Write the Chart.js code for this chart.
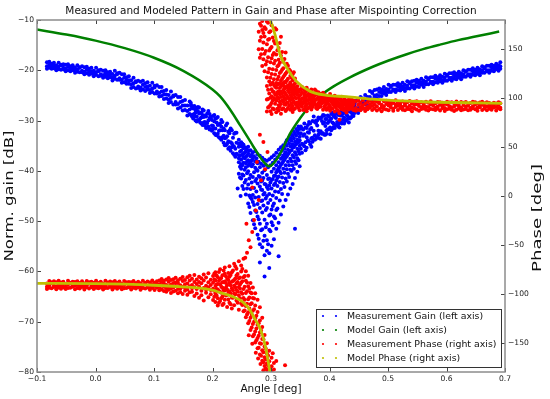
<!DOCTYPE html>
<html>
<head>
<meta charset="utf-8">
<title>Gain and Phase after Mispointing Correction</title>
<script src="https://cdn.jsdelivr.net/npm/chart.js@4.4.1/dist/chart.umd.min.js"></script>
<style>
    html, body { margin: 0; padding: 0; background: #fff; }
    canvas { display: block; }
</style>
</head>
<body>
<canvas id="pattern-chart" width="550" height="399"></canvas>
<script>
// Angle [deg] vs normalised gain [dB] (left axis) and phase [deg] (right axis).

var gainModel = [
    [-0.1, -11.9], [-0.05, -12.9], [0, -14.1], [0.05, -15.6], [0.1, -17.5], [0.15, -20.1],
    [0.2, -23.8], [0.213, -25.2], [0.23, -27.8], [0.247, -30.9], [0.26, -33.3],
    [0.27, -35.2], [0.28, -37.0], [0.288, -38.3], [0.297, -39.1], [0.305, -38.4], [0.312, -37.3],
    [0.32, -35.6], [0.3325, -32.6], [0.35, -29.5], [0.367, -27.0], [0.385, -25.0], [0.407, -23.2],
    [0.435, -21.4], [0.474, -19.3], [0.5, -18.1], [0.532, -16.8], [0.56, -15.8], [0.589, -14.9],
    [0.62, -14.0], [0.645, -13.4], [0.69, -12.3]
];

var phaseModelLeft = [
    [-0.1, -89.3], [0, -89.6], [0.05, -90.2], [0.1, -91.3], [0.15, -93.0], [0.179, -94.3],
    [0.2, -96.3], [0.213, -98.8], [0.235, -103.0], [0.252, -108.5], [0.264, -116.5],
    [0.2726, -126.0], [0.281, -135.0], [0.286, -143.5], [0.29, -153.0], [0.294, -165.0],
    [0.297, -176.0], [0.2985, -182.0]
];

var phaseModelRight = [
    [0.2975, 182.0], [0.3017, 175.0], [0.307, 164.7], [0.3154, 145.0], [0.327, 131.0],
    [0.344, 117.0], [0.367, 107.0], [0.395, 103.0], [0.429, 101.6], [0.474, 99.0],
    [0.56, 96.4], [0.695, 94.8]
];

// blue cloud, left arm
var gainMeasLeft = [
    [-0.083, -18.4, -19.2, -19.7], [-0.079, -18.9, -18.3, -19.5], [-0.075, -19.2, -18.7, -19.7],
    [-0.071, -18.5, -19.6, -19.1], [-0.067, -19.5, -19.0, -20.0], [-0.063, -18.5, -19.3, -19.8],
    [-0.059, -19.0, -19.9, -18.9], [-0.055, -19.5, -18.8, -19.8], [-0.051, -18.9, -19.7, -20.2],
    [-0.047, -19.3, -18.8, -20.0], [-0.043, -19.6, -19.2, -20.2], [-0.039, -19.0, -20.0, -19.5],
    [-0.035, -20.0, -19.5, -20.5], [-0.031, -19.0, -19.8, -20.3], [-0.027, -19.5, -20.4, -19.4],
    [-0.023, -20.1, -19.2, -20.4], [-0.019, -19.4, -20.3, -20.8], [-0.015, -19.9, -19.3, -20.6],
    [-0.011, -20.3, -19.7, -20.9], [-0.007, -19.5, -20.7, -20.2], [-0.003, -20.7, -20.1, -21.2],
    [0.001, -19.5, -20.4, -20.9], [0.005, -20.2, -21.2, -20.0], [0.009, -20.8, -19.9, -21.1],
    [0.013, -20.1, -21.0, -21.5], [0.017, -20.6, -20.0, -21.3], [0.021, -21.0, -20.4, -21.6],
    [0.025, -20.3, -21.4, -20.9], [0.029, -21.45, -20.75, -22.05], [0.033, -20.1, -21.1, -21.7],
    [0.037, -20.8, -21.9, -20.6], [0.041, -21.6, -20.5, -21.9], [0.045, -20.8, -21.9, -22.5],
    [0.049, -21.5, -20.8, -22.4], [0.053, -22.0, -21.4, -22.7], [0.057, -21.2, -22.7, -22.0],
    [0.061, -22.8, -22.0, -23.5], [0.065, -21.5, -22.6, -23.3], [0.069, -22.4, -23.6, -22.2],
    [0.073, -23.2, -22.1, -23.5], [0.077, -22.3, -23.4, -24.0], [0.081, -22.9, -22.1, -23.8],
    [0.085, -23.3, -22.6, -24.1], [0.089, -22.4, -23.8, -23.2], [0.093, -23.9, -23.1, -24.5],
    [0.097, -22.5, -23.6, -24.3], [0.101, -23.4, -24.6, -23.1], [0.105, -24.2, -23.0, -24.6],
    [0.109, -23.3, -24.5, -25.2], [0.113, -24.2, -23.3, -25.1], [0.117, -24.8, -24.1, -25.7],
    [0.121, -23.9, -25.6, -24.8], [0.125, -25.8, -24.9, -26.5], [0.129, -24.2, -25.5, -26.3],
    [0.133, -25.2, -26.8, -25.0], [0.137, -26.3, -24.9, -26.8], [0.141, -25.3, -26.7, -27.6],
    [0.145, -26.3, -25.3, -27.4], [0.149, -27.0, -26.1, -28.0], [0.153, -25.9, -27.9, -27.0],
    [0.157, -28.1, -27.0, -29.0], [0.161, -26.2, -27.8, -28.7], [0.165, -27.5, -29.2, -27.1],
    [0.169, -28.7, -27.1, -29.2], [0.173, -27.5, -29.2, -30.2], [0.177, -28.6, -27.4, -30.0],
    [0.181, -29.4, -28.4, -30.6], [0.185, -28.0, -30.4, -29.3], [0.189, -30.5, -29.2, -31.5],
    [0.193, -28.1, -30.0, -31.2], [0.197, -29.6, -31.7, -29.2], [0.201, -31.1, -29.1, -31.7],
    [0.205, -29.6, -31.6, -32.8], [0.209, -30.9, -29.3, -32.6], [0.213, -31.9, -30.6, -33.5],
    [0.217, -30.3, -33.3, -31.9], [0.221, -33.5, -31.9, -34.9], [0.225, -30.6, -33.1, -34.6],
    [0.229, -32.5, -35.3, -32.0], [0.233, -34.5, -31.9, -35.3], [0.237, -32.6, -35.2, -36.8],
    [0.241, -34.4, -32.4, -36.6],
    // in-between columns where the band is wide
    [0.163, -27.0, -28.9, -26.5], [0.167, -29.6, -27.6, -28.8], [0.171, -27.9, -30.0, -28.4],
    [0.175, -29.9, -28.1, -27.3], [0.179, -28.5, -30.4, -29.6], [0.183, -30.9, -28.9, -27.8],
    [0.187, -29.0, -31.0, -30.3], [0.191, -28.6, -31.4, -30.5], [0.195, -31.8, -29.5, -28.7],
    [0.199, -29.9, -32.0, -31.0], [0.203, -28.9, -32.5, -30.2], [0.207, -32.9, -30.4, -29.5],
    [0.211, -30.8, -33.3, -32.0], [0.215, -29.9, -33.8, -31.2], [0.219, -34.4, -31.6, -33.0],
    [0.223, -31.0, -34.9, -33.4], [0.227, -32.2, -35.6, -34.1], [0.231, -31.6, -36.0, -34.3],
    [0.235, -33.4, -36.5, -35.0], [0.239, -32.4, -37.2, -35.6]
];

// blue cloud, bottom of the dip
var gainMeasDip = [
    [0.243, -43.5], [0.248, -45.0],
    [0.245, -33.8, -35.2, -36.9, -34.6, -38.3, -40.6, -37.5],
    [0.249, -34.3, -36.0, -37.8, -35.1, -39.6, -41.5, -38.7],
    [0.253, -34.8, -36.6, -38.4, -35.5, -40.9, -43.6, -37.3],
    [0.257, -35.4, -37.2, -39.3, -36.1, -41.8, -44.7, -38.5],
    [0.261, -35.2, -37.9, -40.1, -36.6, -42.7, -46.5, -39.0],
    [0.265, -35.9, -38.2, -40.8, -37.1, -43.6, -48.4, -45.3],
    [0.269, -36.3, -38.7, -41.2, -37.6, -44.8, -49.8, -46.2],
    [0.273, -36.1, -39.4, -42.0, -38.1, -45.3, -51.4, -47.9],
    [0.277, -36.7, -40.0, -42.5, -38.5, -46.6, -52.7, -49.1],
    [0.281, -37.0, -39.3, -43.1, -41.2, -47.4, -54.6, -50.5, -58.2],
    [0.285, -37.4, -40.4, -43.8, -41.9, -48.3, -55.2, -51.6, -45.9],
    [0.289, -37.8, -39.9, -44.4, -42.6, -49.7, -56.8, -52.9, -61.0],
    [0.293, -38.0, -40.8, -45.0, -43.2, -50.5, -55.9, -47.4, -53.8],
    [0.297, -37.7, -41.5, -44.6, -42.9, -48.9, -56.4, -51.7, -59.3],
    [0.301, -37.3, -40.2, -43.5, -41.8, -47.7, -54.9, -50.2],
    [0.305, -36.9, -39.6, -42.8, -41.0, -46.5, -53.6, -49.1],
    [0.309, -36.4, -38.9, -41.9, -40.3, -45.4, -51.5, -47.8],
    [0.313, -35.8, -38.3, -41.1, -39.5, -44.2, -50.3, -57.0],
    [0.317, -35.3, -37.6, -40.5, -38.8, -43.6, -48.7],
    [0.321, -34.9, -37.0, -39.6, -38.1, -42.4, -47.1],
    [0.325, -34.4, -36.3, -38.9, -37.4, -41.5, -45.8],
    [0.329, -33.9, -35.8, -38.2, -36.7, -40.6, -44.7],
    [0.333, -33.5, -35.1, -37.6, -36.0, -39.8, -43.5],
    [0.337, -33.0, -34.7, -36.9, -35.4, -38.9, -42.6],
    [0.341, -32.6, -34.2, -36.3, -34.9, -38.1, -41.4, -51.5],
    [0.345, -32.1, -33.8, -35.6, -34.3, -37.5, -40.2],
    [0.349, -31.7, -33.2, -35.0, -33.9, -36.6, -39.1],
    // in-between columns
    [0.247, -35.0, -37.0, -39.2, -36.2, -41.3], [0.251, -34.6, -36.8, -38.9, -40.7, -43.0],
    [0.255, -35.3, -37.5, -39.8, -36.4, -42.3], [0.259, -35.8, -38.1, -40.5, -43.5, -37.0],
    [0.263, -36.0, -38.6, -41.5, -44.9, -47.2], [0.267, -36.8, -39.1, -42.3, -45.6, -37.9],
    [0.271, -37.1, -40.3, -43.4, -46.8, -50.6], [0.275, -37.5, -39.8, -44.1, -48.2, -41.6],
    [0.279, -38.2, -41.0, -45.2, -49.6, -53.5], [0.283, -38.6, -42.1, -46.0, -43.7, -51.8],
    [0.287, -39.0, -41.4, -46.9, -53.9, -44.7], [0.291, -38.8, -42.7, -47.8, -51.2, -45.5],
    [0.295, -39.3, -43.6, -46.4, -54.6, -41.6], [0.299, -38.9, -42.3, -45.8, -52.0, -48.7],
    [0.303, -38.4, -41.6, -44.9, -50.8, -47.0], [0.307, -37.8, -40.9, -44.1, -49.4, -42.5],
    [0.311, -37.3, -39.9, -43.0, -47.5, -41.4], [0.315, -36.7, -39.2, -42.2, -45.9, -40.1],
    [0.319, -36.0, -38.5, -41.3, -44.6, -37.4], [0.323, -35.6, -37.8, -40.4, -43.2, -36.7],
    [0.327, -35.0, -37.1, -39.7, -42.1, -33.9], [0.331, -34.5, -36.4, -38.9, -41.2, -33.4],
    [0.335, -34.0, -35.9, -38.1, -40.0, -32.8], [0.339, -33.5, -35.3, -37.3, -39.6, -32.2],
    [0.343, -33.0, -34.7, -36.8, -38.6, -31.7], [0.347, -32.5, -34.3, -36.1, -37.9, -31.2]
];

// blue cloud, right arm
var gainMeasRight = [
    [0.353, -31.6, -34.6, -36.4], [0.357, -32.7, -30.6, -35.1], [0.361, -33.3, -31.5, -35.4],
    [0.365, -30.3, -34.1, -32.4], [0.369, -33.5, -31.5, -35.2], [0.373, -29.2, -32.0, -33.7],
    [0.377, -30.5, -33.6, -30.0], [0.381, -32.0, -29.4, -32.8], [0.385, -29.5, -32.1, -33.6],
    [0.389, -30.6, -28.9, -32.5], [0.393, -31.1, -29.7, -32.8], [0.397, -29.0, -31.8, -30.5],
    [0.401, -31.4, -29.9, -32.7], [0.405, -28.4, -30.4, -31.6], [0.409, -29.3, -31.5, -28.9],
    [0.413, -30.3, -28.3, -30.9], [0.417, -28.3, -30.2, -31.4], [0.421, -29.0, -27.7, -30.6],
    [0.425, -29.4, -28.3, -30.6], [0.429, -27.5, -29.9, -28.8], [0.433, -29.4, -28.2, -30.4],
    [0.437, -26.7, -28.4, -29.4], [0.441, -27.2, -29.1, -26.9], [0.445, -27.7, -26.1, -28.2],
    [0.449, -25.9, -27.5, -28.5], [0.453, -26.4, -25.3, -27.6], [0.457, -26.5, -25.6, -27.6],
    [0.461, -24.9, -26.7, -25.9], [0.465, -26.2, -25.3, -27.1], [0.469, -24.1, -25.3, -26.0],
    [0.473, -24.5, -25.8, -24.3], [0.477, -25.0, -23.9, -25.3], [0.481, -23.8, -24.9, -25.6],
    [0.485, -24.3, -23.6, -25.1], [0.489, -24.4, -23.8, -25.1], [0.493, -23.3, -24.6, -24.0],
    [0.497, -24.3, -23.7, -24.9], [0.501, -22.9, -23.8, -24.3], [0.505, -23.3, -24.3, -23.1],
    [0.509, -23.8, -22.9, -24.0], [0.513, -22.9, -23.8, -24.3], [0.517, -23.2, -22.6, -23.9],
    [0.521, -23.4, -22.9, -24.0], [0.525, -22.5, -23.7, -23.2], [0.529, -23.5, -22.9, -24.1],
    [0.533, -22.2, -23.1, -23.6], [0.537, -22.6, -23.6, -22.4], [0.541, -23.0, -22.2, -23.3],
    [0.545, -22.1, -23.0, -23.6], [0.549, -22.5, -21.9, -23.2], [0.553, -22.7, -22.1, -23.3],
    [0.557, -21.7, -22.9, -22.4], [0.561, -22.7, -22.1, -23.3], [0.565, -21.4, -22.3, -22.8],
    [0.569, -21.8, -22.8, -21.6], [0.573, -22.3, -21.4, -22.5], [0.577, -21.4, -22.3, -22.8],
    [0.581, -21.7, -21.1, -22.4], [0.585, -21.9, -21.4, -22.5], [0.589, -21.0, -22.2, -21.6],
    [0.593, -22.0, -21.3, -22.5], [0.597, -20.7, -21.5, -22.1], [0.601, -21.1, -22.1, -20.9],
    [0.605, -21.5, -20.6, -21.8], [0.609, -20.6, -21.5, -22.1], [0.613, -21.0, -20.4, -21.7],
    [0.617, -21.2, -20.7, -21.8], [0.621, -20.3, -21.4, -20.9], [0.625, -21.3, -20.6, -21.8],
    [0.629, -20.0, -20.8, -21.3], [0.633, -20.3, -21.3, -20.2], [0.637, -20.8, -19.9, -21.0],
    [0.641, -19.9, -20.8, -21.3], [0.645, -20.2, -19.6, -20.9], [0.649, -20.4, -19.9, -21.0],
    [0.653, -19.5, -20.7, -20.1], [0.657, -20.5, -19.8, -21.0], [0.661, -19.2, -20.0, -20.5],
    [0.665, -19.6, -20.5, -19.4], [0.669, -20.0, -19.1, -20.2], [0.673, -19.1, -20.0, -20.5],
    [0.677, -19.4, -18.9, -20.1], [0.681, -19.6, -19.1, -20.2], [0.685, -18.7, -19.8, -19.3],
    [0.689, -19.6, -19.0, -20.1], [0.692, -18.4, -19.2, -19.7],
    // in-between columns where the band is wide
    [0.351, -32.5, -35.6, -31.2], [0.355, -34.8, -31.8, -33.0], [0.359, -31.4, -34.3, -35.9],
    [0.363, -33.9, -30.9, -32.3], [0.367, -30.6, -34.7, -31.8], [0.371, -33.4, -30.1, -34.2],
    [0.375, -32.9, -30.3, -33.8], [0.379, -30.0, -33.3, -31.0], [0.383, -32.4, -29.6, -33.5],
    [0.387, -30.1, -32.6, -29.3], [0.391, -32.8, -30.4, -29.0], [0.395, -29.7, -31.9, -32.6],
    [0.399, -31.7, -29.2, -30.2], [0.403, -29.6, -31.9, -28.7], [0.407, -31.3, -29.0, -30.6],
    [0.411, -28.6, -30.9, -29.5], [0.415, -30.7, -28.9, -31.2], [0.419, -28.2, -30.3, -29.0],
    [0.423, -30.5, -28.6, -29.8], [0.427, -27.9, -30.1, -28.4], [0.431, -29.7, -27.6, -29.1],
    [0.435, -27.3, -29.6, -28.0], [0.439, -29.0, -27.0, -28.5], [0.443, -26.6, -28.5, -27.2]
];

// red cloud, lower branch (near -90 deg, bending down to -180)
var phaseMeasLeft = [
    [-0.083, -92.8, -89.5, -95.2], [-0.079, -86.9, -91.3, -93.9], [-0.075, -89.0, -94.4, -88.1],
    [-0.071, -91.7, -87.2, -93.0], [-0.067, -88.3, -92.6, -95.3], [-0.063, -90.4, -86.8, -93.7],
    [-0.059, -91.8, -88.5, -94.9], [-0.055, -87.6, -93.5, -90.2], [-0.051, -93.1, -89.9, -95.0],
    [-0.047, -86.7, -90.6, -94.2], [-0.043, -89.6, -93.8, -88.7], [-0.039, -92.2, -87.8, -92.9],
    [-0.035, -88.0, -91.9, -95.4], [-0.031, -90.8, -87.1, -94.0], [-0.027, -91.5, -89.1, -94.6],
    [-0.023, -87.3, -93.0, -90.7], [-0.019, -92.6, -89.4, -95.5], [-0.015, -86.9, -91.2, -93.3],
    [-0.011, -89.3, -94.7, -88.2], [-0.007, -91.9, -87.6, -93.4], [-0.003, -88.6, -92.1, -95.1],
    [0.001, -90.2, -86.7, -93.9], [0.005, -92.0, -88.9, -94.3], [0.009, -87.8, -93.6, -90.5],
    [0.013, -92.9, -89.6, -95.6], [0.017, -86.8, -91.5, -94.1], [0.021, -89.8, -94.2, -88.5],
    [0.025, -91.6, -87.4, -93.1], [0.029, -88.1, -92.4, -95.5], [0.033, -90.6, -87.0, -93.5],
    [0.037, -91.7, -88.7, -94.8], [0.041, -87.4, -93.3, -90.9], [0.045, -93.0, -89.8, -95.3],
    [0.049, -86.9, -90.9, -94.4], [0.053, -89.4, -94.0, -88.3], [0.057, -92.4, -87.9, -93.2],
    [0.061, -88.2, -92.0, -95.7], [0.065, -90.9, -86.9, -93.8], [0.069, -91.3, -89.0, -94.7],
    [0.073, -87.7, -93.4, -90.4], [0.077, -92.7, -89.3, -95.8], [0.081, -86.6, -91.4, -94.0],
    [0.085, -89.7, -94.5, -88.6], [0.089, -91.8, -87.5, -93.6], [0.093, -88.4, -92.8, -95.9],
    [0.097, -90.3, -86.5, -94.1], [0.101, -92.1, -88.8, -96.2], [0.105, -87.2, -93.9, -90.8],
    [0.109, -86.4, -93.1, -96.5, -90.2], [0.113, -91.8, -88.0, -95.7, -84.9],
    [0.117, -89.5, -97.1, -86.6, -92.8], [0.121, -94.4, -85.3, -90.9, -98.0],
    [0.125, -87.7, -92.3, -96.0, -83.8], [0.129, -90.6, -99.1, -86.0, -94.8],
    [0.133, -85.2, -93.7, -89.1, -97.6], [0.137, -92.0, -83.5, -96.9, -88.4],
    [0.141, -88.9, -95.2, -99.4, -86.1], [0.145, -94.6, -84.7, -91.3, -98.2],
    [0.149, -87.0, -92.9, -100.3, -82.9], [0.153, -90.2, -96.8, -85.8, -93.9],
    [0.157, -95.7, -83.1, -89.6, -101.0], [0.161, -86.4, -92.4, -98.5, -81.6],
    [0.165, -91.1, -97.9, -84.6, -94.3], [0.169, -88.0, -102.2, -93.3, -80.7],
    [0.173, -95.0, -85.5, -99.6, -90.1], [0.177, -82.6, -92.6, -104.1, -87.9],
    [0.181, -96.8, -89.2, -101.5, -84.0], [0.185, -86.5, -94.1, -107.0, -80.2],
    [0.189, -91.7, -99.0, -83.4, -95.8], [0.193, -88.3, -103.6, -78.9, -93.4],
    [0.197, -96.2, -85.7, -100.5, -91.0], [0.201, -81.7, -94.8, -106.4, -88.6],
    [0.205, -77.9, -92.1, -99.8, -86.4, -108.5], [0.209, -95.6, -83.2, -104.7, -89.9, -112.0],
    [0.213, -74.8, -90.3, -98.1, -85.0, -107.3], [0.217, -93.8, -81.1, -102.9, -88.2, -111.4],
    [0.221, -79.5, -96.7, -87.4, -106.1, -73.2], [0.225, -91.2, -84.8, -100.9, -113.6, -95.5],
    [0.229, -71.9, -89.0, -97.3, -82.7, -109.2], [0.233, -94.3, -78.0, -103.8, -87.6, -115.0],
    [0.237, -69.4, -91.8, -85.9, -99.7, -111.7], [0.241, -81.3, -96.2, -74.5, -106.8, -89.3],
    [0.245, -66.8, -93.0, -84.1, -101.5, -116.4], [0.249, -77.2, -98.4, -88.8, -109.9, -71.0],
    [0.253, -95.1, -83.0, -104.2, -117.8, -64.3], [0.257, -86.7, -99.2, -112.5, -76.9, -124.0],
    [0.261, -92.4, -105.6, -81.5, -118.9, -130.2], [0.265, -98.8, -110.7, -88.9, -124.6, -137.1],
    [0.269, -104.3, -117.4, -93.6, -131.0, -143.5], [0.273, -112.0, -125.1, -99.5, -138.6, -149.9],
    [0.277, -118.7, -131.8, -106.0, -145.2, -155.6], [0.281, -127.3, -139.5, -150.7, -162.0, -113.8],
    [0.285, -133.9, -146.2, -157.8, -168.4, -124.5], [0.289, -142.1, -154.0, -164.9, -173.8],
    [0.293, -150.6, -161.2, -171.4, -177.9], [0.297, -158.3, -168.9, -176.0],
    [0.301, -165.4, -174.2, -179.0], [0.305, -170.8, -177.5], [0.324, -173.0],
    [0.262, -142.5], [0.268, -151.0], [0.274, -160.2], [0.278, -166.3], [0.282, -171.9],
    [0.287, -178.2], [0.303, -160.8], [0.309, -168.7],
    // in-between columns of the bend
    [0.203, -85.4, -96.9, -79.6, -103.0], [0.207, -90.5, -81.4, -101.8, -95.0],
    [0.211, -86.8, -97.2, -77.6, -109.3], [0.215, -92.7, -83.9, -104.5, -99.0],
    [0.219, -88.1, -76.3, -95.9, -110.2], [0.223, -82.2, -93.6, -101.7, -88.9],
    [0.227, -97.9, -86.0, -78.8, -105.8], [0.231, -91.4, -80.7, -99.8, -110.6],
    [0.235, -87.0, -96.3, -76.1, -104.0], [0.239, -93.2, -84.5, -100.4, -71.8],
    [0.243, -88.0, -97.7, -79.9, -109.1], [0.247, -94.7, -83.4, -104.7, -90.6],
    [0.251, -99.9, -87.1, -111.5, -74.7], [0.255, -92.9, -106.2, -81.9, -117.0],
    [0.259, -97.5, -110.3, -88.4, -121.3], [0.263, -103.7, -115.0, -94.9, -127.9],
    [0.267, -109.8, -121.5, -99.4, -134.6], [0.271, -115.9, -128.7, -104.8, -141.6],
    [0.275, -122.5, -135.6, -147.5], [0.279, -130.1, -142.8, -155.3],
    [0.283, -137.6, -151.2, -163.5], [0.287, -146.5, -159.8, -170.1],
    [0.291, -155.9, -167.3, -176.3], [0.295, -163.2, -173.0]
];

// sparse red points bridging the two branches inside the gain dip
var phaseMeasBridge = [
    [0.259, -58.0], [0.265, -52.5], [0.256, -63.1], [0.262, -45.2], [0.268, -36.7],
    [0.258, -28.4], [0.271, -24.5], [0.274, -14.9], [0.279, -4.0], [0.268, 8.6],
    [0.283, 16.1], [0.29, 27.3], [0.276, 34.8], [0.294, 45.0], [0.287, 55.2], [0.281, 62.7]
];

// red cloud, upper branch (from +180 deg settling near +92 deg)
var phaseMeasRight = [
    [0.281, 176.2, 158.9, 141.5], [0.285, 169.8, 150.4, 133.0, 179.1],
    [0.289, 163.1, 145.6, 127.7, 172.5], [0.293, 178.4, 155.2, 137.9, 121.3],
    [0.297, 167.4, 148.8, 130.2, 160.6], [0.301, 174.7, 141.0, 124.9, 152.3],
    [0.305, 158.5, 135.6, 119.4, 146.2], [0.309, 170.3, 144.7, 128.8, 115.6],
    [0.313, 151.4, 133.9, 122.0, 139.3], [0.317, 162.8, 127.1, 117.8, 143.5],
    [0.321, 137.4, 121.6, 130.7, 112.9], [0.325, 146.8, 125.3, 116.2],
    [0.329, 133.1, 119.8, 110.4], [0.333, 127.9, 114.7, 122.6],
    [0.337, 118.5, 124.4, 109.9], [0.341, 115.2, 120.1, 107.8],
    [0.279, 168.0, 150.2], [0.283, 162.5, 145.0, 174.0], [0.287, 157.1, 139.8, 166.8],
    [0.291, 170.9, 148.3, 134.6], [0.295, 159.7, 142.0, 126.5, 177.2],
    [0.299, 168.6, 150.9, 136.7, 121.0], [0.303, 162.2, 144.1, 129.6],
    [0.307, 155.9, 138.3, 124.2, 171.5], [0.311, 149.0, 132.7, 119.3],
    [0.315, 156.5, 136.4, 125.7, 114.8], [0.319, 147.2, 129.0, 119.9],
    [0.323, 140.1, 123.4, 116.6], [0.327, 135.2, 118.1, 126.9], [0.331, 129.4, 113.2],
    [0.335, 121.0, 111.8], [0.339, 126.6, 112.4],
    [0.293, 112.4, 98.7, 86.3], [0.297, 104.9, 91.6, 117.0], [0.301, 109.3, 95.1, 83.8, 101.9],
    [0.305, 113.6, 100.2, 88.7, 106.4], [0.309, 97.3, 110.8, 85.6, 103.5],
    [0.313, 115.1, 92.9, 107.2, 99.6, 87.4], [0.317, 101.3, 111.9, 94.0, 84.2, 106.7],
    [0.321, 108.5, 96.6, 115.4, 89.8, 102.1], [0.325, 93.2, 104.6, 111.3, 86.9, 99.0],
    [0.329, 113.0, 100.7, 95.4, 107.8, 90.1], [0.333, 97.8, 109.6, 88.3, 103.2, 116.1],
    [0.337, 105.5, 92.1, 112.6, 99.3, 86.0], [0.341, 101.0, 110.2, 94.7, 106.9, 89.4],
    [0.345, 108.1, 96.0, 103.9, 112.3, 91.8], [0.349, 94.3, 102.6, 87.6, 109.0, 98.5],
    [0.353, 106.2, 99.8, 91.3, 111.5, 95.6], [0.357, 97.1, 104.3, 89.0, 108.4, 101.7],
    [0.361, 102.9, 93.6, 110.6, 98.2, 86.8], [0.365, 95.2, 106.8, 100.4, 90.7, 104.0],
    [0.369, 108.9, 97.5, 92.4, 103.1, 88.5], [0.373, 99.6, 105.2, 93.9, 101.8, 96.3],
    [0.377, 92.0, 103.7, 98.8, 107.4, 89.9], [0.381, 101.1, 95.0, 106.1, 90.6, 99.3],
    [0.385, 104.5, 97.2, 91.4, 102.3], [0.389, 96.0, 100.9, 88.2, 105.6],
    [0.393, 93.3, 103.0, 98.4, 90.2], [0.397, 101.8, 95.7, 89.6, 97.9],
    [0.401, 98.0, 92.1, 104.2, 87.1], [0.405, 94.9, 100.3, 89.3, 97.0],
    [0.409, 102.6, 91.7, 96.4, 86.4], [0.413, 97.2, 93.6, 100.8, 88.0],
    [0.417, 90.9, 99.1, 94.4, 84.6, 78.0], [0.421, 96.8, 88.8, 101.5, 92.5],
    [0.425, 93.7, 99.0, 87.7, 95.8], [0.429, 90.1, 97.4, 92.9, 85.3],
    [0.433, 98.6, 94.2, 88.4, 96.1], [0.437, 92.3, 96.9, 89.5, 99.7],
    [0.441, 95.5, 87.9, 93.8, 97.6],
    [0.295, 99.2, 108.6, 90.4], [0.299, 113.8, 100.4, 93.0, 86.8],
    [0.303, 97.6, 106.9, 89.5, 115.7], [0.307, 103.8, 94.4, 111.7, 98.7],
    [0.311, 89.2, 106.0, 100.9, 113.9], [0.315, 96.3, 104.1, 110.4, 91.0],
    [0.319, 114.5, 98.0, 88.6, 104.8], [0.323, 100.0, 93.8, 109.9, 106.3],
    [0.327, 95.7, 112.0, 102.7, 88.4], [0.331, 106.0, 99.2, 92.6, 111.5],
    [0.335, 101.6, 94.6, 108.2, 90.2], [0.339, 97.0, 113.7, 103.5, 88.7],
    [0.343, 110.5, 99.9, 93.3, 104.7], [0.347, 94.9, 106.5, 100.5, 90.0],
    [0.351, 103.7, 97.3, 108.6, 92.4], [0.355, 99.4, 110.0, 94.4, 87.9],
    [0.359, 106.7, 100.6, 91.9, 96.0], [0.363, 97.7, 103.9, 89.8, 108.1],
    [0.367, 101.9, 94.1, 106.0, 99.0], [0.371, 95.6, 104.4, 91.0, 100.5],
    [0.375, 103.0, 97.6, 94.3, 108.8], [0.379, 99.7, 93.0, 104.0, 88.9],
    [0.383, 96.4, 100.6, 92.2], [0.387, 102.1, 94.8, 99.0], [0.391, 97.8, 91.5, 101.3],
    [0.395, 95.3, 100.0, 88.3], [0.399, 99.7, 93.7, 91.2], [0.403, 96.6, 101.6, 89.7],
    [0.407, 93.0, 98.8, 95.1], [0.411, 99.6, 90.3, 94.8], [0.415, 96.0, 92.2, 87.3],
    [0.419, 98.7, 93.9, 90.7], [0.423, 91.0, 97.5, 95.0], [0.427, 94.6, 89.8, 98.1],
    [0.431, 96.3, 92.0, 88.9], [0.435, 93.1, 97.9, 90.7], [0.439, 89.4, 95.0, 92.6],
    [0.445, 96.8, 90.0, 87.1], [0.449, 93.4, 97.5, 88.2], [0.453, 91.0, 95.2, 87.6],
    [0.457, 97.9, 92.7, 89.4], [0.461, 89.8, 94.6, 86.9], [0.465, 96.1, 91.4, 88.7],
    [0.469, 93.9, 98.0, 90.3], [0.473, 88.0, 95.7, 92.1], [0.477, 97.2, 89.6, 93.3],
    [0.481, 91.8, 96.3, 87.4], [0.485, 94.8, 88.9, 97.6], [0.489, 90.6, 93.2, 86.8],
    [0.493, 96.9, 91.9, 89.0], [0.497, 88.5, 94.1, 97.3], [0.501, 92.6, 87.7, 95.5],
    [0.505, 97.0, 90.4, 93.7], [0.509, 89.3, 95.0, 87.2], [0.513, 93.5, 97.8, 90.9],
    [0.517, 87.9, 92.2, 96.0], [0.521, 95.6, 89.9, 93.0], [0.525, 91.1, 96.7, 88.1],
    [0.529, 94.4, 87.6, 92.7], [0.533, 89.0, 95.9, 90.5], [0.537, 97.1, 92.4, 88.6],
    [0.541, 90.2, 94.6, 86.7], [0.545, 96.3, 89.4, 93.1], [0.549, 88.4, 93.8, 96.9],
    [0.553, 92.0, 87.3, 95.2], [0.557, 95.8, 90.7, 88.9], [0.561, 89.6, 94.3, 92.8],
    [0.565, 96.5, 88.2, 91.4], [0.569, 90.9, 95.4, 87.5], [0.573, 93.6, 89.1, 97.0],
    [0.577, 88.7, 92.9, 95.1], [0.581, 94.9, 90.3, 87.9], [0.585, 91.5, 96.2, 89.2],
    [0.589, 87.4, 93.3, 95.8], [0.593, 95.3, 89.8, 92.1], [0.597, 90.0, 94.0, 87.0],
    [0.601, 93.9, 88.6, 96.4], [0.605, 89.2, 95.6, 91.7], [0.609, 96.0, 90.8, 88.3],
    [0.613, 91.3, 94.8, 86.9], [0.617, 88.1, 93.4, 96.6], [0.621, 94.5, 89.5, 92.2],
    [0.625, 90.4, 96.1, 87.8], [0.629, 93.0, 88.4, 95.3], [0.633, 96.2, 91.6, 89.0],
    [0.637, 87.6, 94.2, 92.4], [0.641, 95.0, 90.1, 88.2], [0.645, 91.9, 96.4, 89.7],
    [0.649, 88.8, 93.5, 95.9], [0.653, 94.7, 90.6, 87.3], [0.657, 90.7, 95.5, 92.6],
    [0.661, 93.2, 88.0, 96.3], [0.665, 89.4, 94.9, 91.2], [0.669, 96.0, 91.8, 87.7],
    [0.673, 92.3, 89.2, 95.0], [0.677, 88.3, 94.1, 90.8], [0.681, 95.4, 90.5, 93.0],
    [0.685, 91.0, 87.5, 94.6], [0.689, 93.7, 89.9, 96.0], [0.692, 90.3, 94.8, 88.6]
];

var seriesLabels = [
    'Measurement Gain (left axis)',
    'Model Gain (left axis)',
    'Measurement Phase (right axis)',
    'Model Phase (right axis)'
];
var seriesColors = ['#0000ff', '#008000', '#ff0000', '#bfbf00'];

var gainTicks = [-80, -70, -60, -50, -40, -30, -20, -10];
var phaseTicks = [-150, -100, -50, 0, 50, 100, 150];
var angleTicks = [-0.1, 0, 0.1, 0.2, 0.3, 0.4, 0.5, 0.6, 0.7];

var FONT = '"DejaVu Sans", Verdana, sans-serif';

/**
 * Turn [x, v1, v2, ...] rows into {x, y} points
 */
function rowsToPoints() {
    var out = [];
    for (var a = 0; a < arguments.length; a++) {
        arguments[a].forEach(function(row) {
            for (var i = 1; i < row.length; i++) {
                out.push({ x: row[0], y: row[i] });
            }
        });
    }
    return out;
}

function pairsToPoints(pairs) {
    return pairs.map(function(p) { return { x: p[0], y: p[1] }; });
}

function fmt(v, digits) {
    var s = Math.abs(v).toFixed(digits);
    return (v < 0 && Number(s) !== 0) ? '\u2212' + s : s;
}

// model phase wraps at -180/180, so the two branches are split by a gap
var phaseModelPoints = pairsToPoints(phaseModelLeft)
    .concat([{ x: 0.298, y: null }])
    .concat(pairsToPoints(phaseModelRight));

/**
 * Rotated axis label; the original has these drawn a bit long along the text
 */
function drawVerticalLabel(ctx, text, cx, cy, stretch) {
    ctx.save();
    ctx.translate(cx, cy);
    ctx.rotate(-Math.PI / 2);
    ctx.scale(stretch, 1);
    ctx.fillText(text, 0, 0);
    ctx.restore();
}

/**
 * Frame, inward tick marks, axis titles, chart title and legend,
 * drawn the way the original figure has them
 */
var figurePlugin = {
    id: 'figureDecor',
    afterDraw: function(chart) {
        var ctx = chart.ctx;
        var area = chart.chartArea;
        var sx = chart.scales.x, sy = chart.scales.y, sy2 = chart.scales.y2;

        ctx.save();

        // tick marks pointing into the plot
        ctx.strokeStyle = '#444';
        ctx.lineWidth = 1;
        ctx.beginPath();
        angleTicks.forEach(function(v) {
            var px = Math.round(sx.getPixelForValue(v)) + 0.5;
            ctx.moveTo(px, area.bottom); ctx.lineTo(px, area.bottom - 4);
            ctx.moveTo(px, area.top); ctx.lineTo(px, area.top + 4);
        });
        gainTicks.forEach(function(v) {
            var py = Math.round(sy.getPixelForValue(v)) + 0.5;
            ctx.moveTo(area.left, py); ctx.lineTo(area.left + 4, py);
        });
        phaseTicks.forEach(function(v) {
            var py = Math.round(sy2.getPixelForValue(v)) + 0.5;
            ctx.moveTo(area.right, py); ctx.lineTo(area.right - 4, py);
        });
        ctx.stroke();

        // axes frame
        ctx.strokeStyle = '#8c8c8c';
        ctx.lineWidth = 1.5;
        ctx.strokeRect(area.left, area.top, area.right - area.left, area.bottom - area.top);

        // titles
        ctx.fillStyle = '#111';
        ctx.textAlign = 'center';
        ctx.textBaseline = 'middle';
        ctx.font = '10.5px ' + FONT;
        ctx.fillText('Measured and Modeled Pattern in Gain and Phase after Mispointing Correction',
            (area.left + area.right) / 2, 11);
        ctx.fillText('Angle [deg]', (area.left + area.right) / 2, 389);

        ctx.font = '13px ' + FONT;
        drawVerticalLabel(ctx, 'Norm. gain [dB]', 10, 196, 1.27);
        drawVerticalLabel(ctx, 'Phase [deg]', 538, 218, 1.39);

        // legend box, lower right
        var box = { x: 316.5, y: 309.5, w: 185, h: 58 };
        ctx.fillStyle = '#fff';
        ctx.fillRect(box.x, box.y, box.w, box.h);
        ctx.strokeStyle = '#333';
        ctx.lineWidth = 1;
        ctx.strokeRect(box.x, box.y, box.w, box.h);

        ctx.font = '9.4px ' + FONT;
        ctx.textAlign = 'left';
        ctx.textBaseline = 'middle';
        seriesLabels.forEach(function(label, i) {
            var y = 316 + i * 14;
            ctx.fillStyle = seriesColors[i];
            [323, 336].forEach(function(mx) {
                ctx.beginPath();
                ctx.arc(mx, y, 1.1, 0, Math.PI * 2);
                ctx.fill();
            });
            ctx.fillStyle = '#111';
            ctx.fillText(label, 347, y + 0.5);
        });

        ctx.restore();
    }
};

// draw order: blue bottom, then green, red, yellow on top
var chart = new Chart(document.getElementById('pattern-chart'), {
    type: 'scatter',
    data: {
        datasets: [{
            label: seriesLabels[0],
            data: rowsToPoints(gainMeasLeft, gainMeasDip, gainMeasRight),
            yAxisID: 'y',
            order: 4,
            backgroundColor: seriesColors[0],
            borderWidth: 0,
            pointRadius: 2.0
        }, {
            label: seriesLabels[1],
            data: pairsToPoints(gainModel),
            yAxisID: 'y',
            order: 3,
            showLine: true,
            borderColor: seriesColors[1],
            borderWidth: 2.5,
            pointRadius: 0,
            cubicInterpolationMode: 'monotone'
        }, {
            label: seriesLabels[2],
            data: rowsToPoints(phaseMeasLeft, phaseMeasBridge, phaseMeasRight),
            yAxisID: 'y2',
            order: 2,
            backgroundColor: seriesColors[2],
            borderWidth: 0,
            pointRadius: 2.0
        }, {
            label: seriesLabels[3],
            data: phaseModelPoints,
            yAxisID: 'y2',
            order: 1,
            showLine: true,
            spanGaps: false,
            borderColor: seriesColors[3],
            borderWidth: 2.8,
            pointRadius: 0,
            cubicInterpolationMode: 'monotone'
        }]
    },
    options: {
        responsive: false,
        animation: false,
        events: [],
        layout: { padding: { top: 20, left: 0, right: 0, bottom: 0 } },
        plugins: {
            legend: { display: false },
            tooltip: { enabled: false },
            title: { display: false }
        },
        scales: {
            x: {
                type: 'linear',
                min: -0.1,
                max: 0.7,
                grid: { display: false, drawTicks: false },
                border: { display: false },
                afterFit: function(scale) { scale.height = 27; },
                afterBuildTicks: function(scale) {
                    scale.ticks = angleTicks.map(function(v) { return { value: v }; });
                },
                ticks: {
                    padding: 2,
                    maxRotation: 0,
                    autoSkip: false,
                    color: '#222',
                    font: { size: 7.6, family: FONT },
                    callback: function(v) { return fmt(v, 1); }
                }
            },
            y: {
                position: 'left',
                min: -80,
                max: -10,
                grid: { display: false, drawTicks: false },
                border: { display: false },
                afterFit: function(scale) { scale.width = 37; },
                afterBuildTicks: function(scale) {
                    scale.ticks = gainTicks.map(function(v) { return { value: v }; });
                },
                ticks: {
                    padding: 3,
                    autoSkip: false,
                    color: '#222',
                    font: { size: 7.6, family: FONT },
                    callback: function(v) { return fmt(v, 0); }
                }
            },
            y2: {
                position: 'right',
                min: -180,
                max: 180,
                grid: { display: false, drawTicks: false },
                border: { display: false },
                afterFit: function(scale) { scale.width = 45; },
                afterBuildTicks: function(scale) {
                    scale.ticks = phaseTicks.map(function(v) { return { value: v }; });
                },
                ticks: {
                    padding: 3,
                    autoSkip: false,
                    color: '#222',
                    font: { size: 7.6, family: FONT },
                    callback: function(v) { return fmt(v, 0); }
                }
            }
        }
    },
    plugins: [figurePlugin]
});
</script>
</body>
</html>
